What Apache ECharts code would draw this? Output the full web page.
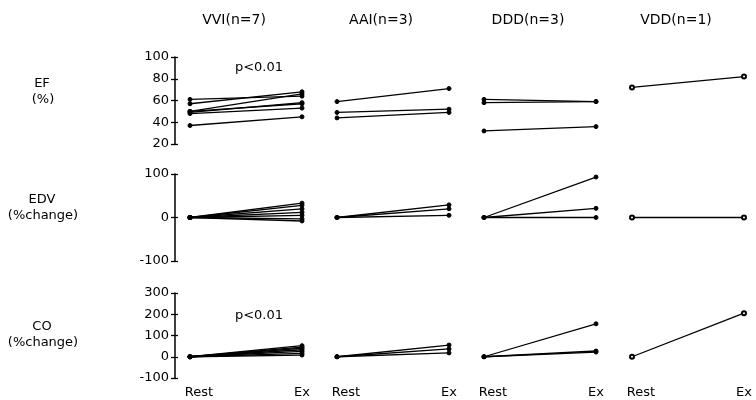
<!DOCTYPE html>
<html><head><meta charset="utf-8">
<script src="https://cdn.jsdelivr.net/npm/echarts@6/dist/echarts.min.js"></script>
<style>html,body{margin:0;padding:0;background:#fff}#c{width:756px;height:400px}</style>
</head><body><div id="c"></div>
<script>
// Groups (columns) and measures (rows)
const groups = ["VVI(n=7)", "AAI(n=3)", "DDD(n=3)", "VDD(n=1)"];
const xLabels = ["Rest", "Ex"];

// EF (%) : [rest, ex] per patient
const efVVI = [[61,64],[57,68],[50,66],[49,58],[50,57],[48,53],[37,45]];
const efAAI = [[59,71],[49,52],[44,49]];
const efDDD = [[61,59],[58,59],[32,36]];
const efVDD = [[72,82]];

// EDV (%change)
const edvVVI = [[0,33],[0,28],[0,20],[0,12],[0,5],[0,-3],[0,-8]];
const edvAAI = [[0,29],[0,20],[0,5]];
const edvDDD = [[0,93],[0,21],[0,0]];
const edvVDD = [[0,0]];

// CO (%change)
const coVVI = [[0,52],[0,45],[0,40],[0,33],[0,25],[0,16],[0,8]];
const coAAI = [[0,55],[0,37],[0,18]];
const coDDD = [[0,155],[0,27],[0,22]];
const coVDD = [[0,205]];

const efTicks = {min:20, max:100, interval:20};
const edvTicks = {min:-100, max:100, interval:100};
const coTicks = {min:-100, max:300, interval:100};

const rows = [
  {data:[efVVI,efAAI,efDDD,efVDD], ticks:efTicks, top:57, bottom:144, label:["EF","(%)"], ly:[84,100]},
  {data:[edvVVI,edvAAI,edvDDD,edvVDD], ticks:edvTicks, top:174, bottom:261, label:["EDV","(%change)"], ly:[200,216]},
  {data:[coVVI,coAAI,coDDD,coVDD], ticks:coTicks, top:293, bottom:378, label:["CO","(%change)"], ly:[327,343]}
];
const colLeft = [190, 337, 484, 632];
const colW = 112;
const FONT = "DejaVu Sans";

const grid = [], xAxis = [], yAxis = [], series = [];
rows.forEach((row, r) => {
  row.data.forEach((pairs, c) => {
    const gi = grid.length;
    grid.push({left: colLeft[c], width: colW, top: row.top, height: row.bottom - row.top});
    xAxis.push({
      gridIndex: gi, type: 'value', min: 0, max: 1, interval: 1,
      axisLine: {show: false}, axisTick: {show: false}, splitLine: {show: false},
      axisLabel: {show: r === 2, margin: 8, color: '#000', fontFamily: FONT, fontSize: 13,
        formatter: v => v === 0 ? '{r|' + xLabels[0] + '}' : xLabels[1],
        rich: {r: {padding: [0, 0, 0, 18], fontFamily: FONT, fontSize: 13, color: '#000'}}}
    });
    const yi = yAxis.length;
    yAxis.push({
      gridIndex: gi, type: 'value', min: row.ticks.min, max: row.ticks.max, interval: row.ticks.interval,
      show: c === 0, offset: 15,
      axisLine: {show: true, onZero: false, lineStyle: {color: '#000', width: 1.5}},
      axisTick: {show: true, length: 4, lineStyle: {color: '#000', width: 1.3}},
      splitLine: {show: false},
      axisLabel: {color: '#000', fontFamily: FONT, fontSize: 13, margin: 6}
    });
    if (c === 0) {
      // inner half of the crossing tick marks
      yAxis.push({
        gridIndex: gi, type: 'value', min: row.ticks.min, max: row.ticks.max, interval: row.ticks.interval,
        position: 'left', offset: 15,
        axisLine: {show: false, onZero: false},
        axisTick: {show: true, inside: true, length: 3, lineStyle: {color: '#000', width: 1.3}},
        splitLine: {show: false}, axisLabel: {show: false}
      });
    }
    const hollow = c === 3;
    pairs.forEach(p => {
      series.push({
        type: 'line', xAxisIndex: gi, yAxisIndex: yi,
        data: [[0, p[0]], [1, p[1]]],
        symbol: hollow ? 'emptyCircle' : 'circle', symbolSize: 4, showSymbol: true,
        lineStyle: {color: '#000', width: 1.3},
        itemStyle: {color: '#000', borderColor: '#000', borderWidth: 1},
        emphasis: {disabled: true}, animation: false, silent: true
      });
    });
  });
});

const txt = (x, y, s, size) => ({type: 'text', x, y, style: {text: s, fill: '#000', font: (size || 13) + 'px "DejaVu Sans"', align: 'center', verticalAlign: 'middle'}});
const graphic = [];
groups.forEach((g, i) => graphic.push(txt(colLeft[i] + colW / 2 - 12, 20, g, 14)));
rows.forEach(row => {
  graphic.push(txt(42, row.ly[0], row.label[0]));
  graphic.push(txt(43, row.ly[1], row.label[1]));
});
graphic.push(txt(259, 68, "p<0.01"));
graphic.push(txt(259, 316, "p<0.01"));

const chart = echarts.init(document.getElementById('c'), null, {renderer: 'canvas'});
chart.setOption({animation: false, backgroundColor: '#fff', grid, xAxis, yAxis, series, graphic});
</script>
</body></html>
